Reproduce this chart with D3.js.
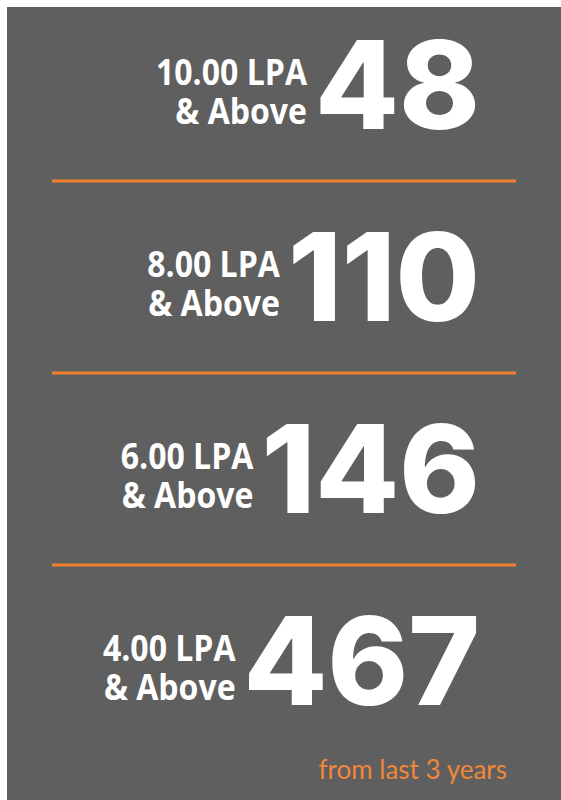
<!DOCTYPE html>
<html>
<head>
<meta charset="utf-8">
<script src="https://cdnjs.cloudflare.com/ajax/libs/d3/7.8.5/d3.min.js"></script>
<style>
  body { margin: 0; background: #ffffff; }
</style>
</head>
<body>
<script>
// salary bands and how many offers reached each one
const thresholds = ["10.00 LPA", "8.00 LPA", "6.00 LPA", "4.00 LPA"];
const suffix = "& Above";
const counts = [48, 110, 146, 467];
const footnote = "from last 3 years";

const W = 561, H = 800;
const orange = "#f0802e";

const svg = d3.select("body").append("svg")
    .attr("width", W)
    .attr("height", H);

svg.append("rect")
    .attr("x", 7).attr("y", 7)
    .attr("width", W - 7).attr("height", H - 7)
    .attr("fill", "#5f5f5f");

// one band per salary row, numbers sit centred in their band
const y = d3.scaleBand().domain(thresholds).range([-11, 757]);

const rows = svg.selectAll("g.row")
    .data(thresholds.map((t, i) => ({ t: t, n: counts[i] })))
    .join("g")
    .attr("class", "row")
    .attr("transform", d => `translate(0,${y(d.t)})`);

const base = y.bandwidth() / 2 + 44;

rows.append("text")
    .attr("class", "num")
    .attr("x", 480)
    .attr("y", base)
    .attr("text-anchor", "end")
    .style("font-family", "Inter, sans-serif")
    .style("font-weight", 800)
    .style("font-size", "122px")
    .attr("fill", "#ffffff")
    .text(d => d.n);

rows.each(function () {
    const g = d3.select(this);
    const box = g.select("text.num").node().getBBox();
    const lab = g.append("g")
        .attr("transform", `translate(${box.x - 8},0) scale(0.89,1)`)
        .style("font-family", "'Open Sans', sans-serif")
        .style("font-weight", 700)
        .style("font-size", "36px")
        .attr("fill", "#ffffff")
        .attr("text-anchor", "end");
    lab.append("text").attr("y", base - 44).text(d => d.t);
    lab.append("text").attr("y", base - 5).text(suffix);
});

svg.selectAll("line.sep")
    .data(thresholds.slice(1))
    .join("line")
    .attr("class", "sep")
    .attr("x1", 52).attr("x2", 516)
    .attr("y1", d => y(d)).attr("y2", d => y(d))
    .attr("stroke", orange)
    .attr("stroke-width", 3);

svg.append("text")
    .attr("x", 507)
    .attr("y", 779)
    .attr("text-anchor", "end")
    .style("font-family", "Lato, sans-serif")
    .style("font-size", "26px")
    .attr("fill", "#f0873a")
    .text(footnote);
</script>
</body>
</html>
